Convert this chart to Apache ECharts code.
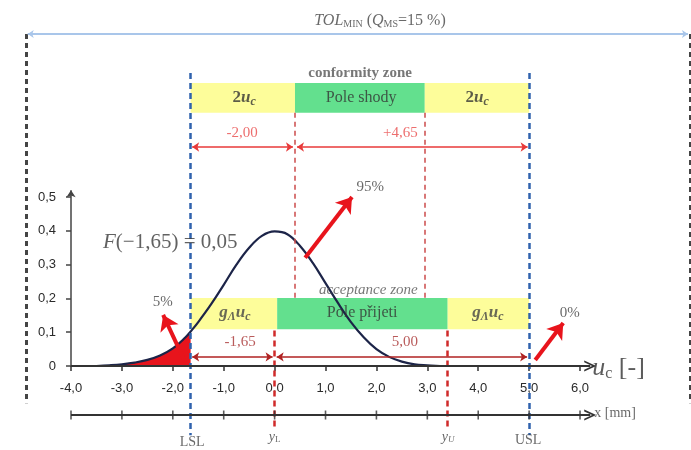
<!DOCTYPE html>
<html><head><meta charset="utf-8">
<script src="https://cdn.jsdelivr.net/npm/echarts@6/dist/echarts.min.js"></script>
<style>html,body{margin:0;padding:0;background:#fff}#c{width:691px;height:450px}</style>
</head><body><div id="c"></div>
<script>
// ---- data ----
const curveX = [-3.5,-3.25,-3,-2.75,-2.5,-2.25,-2,-1.75,-1.65,-1.5,-1.25,-1,-0.75,-0.5,-0.25,0,0.25,0.5,0.75,1,1.25,1.5,1.75,2,2.25,2.5,2.75,3,3.25,3.5];
const curveY = [0.000,0.002,0.005,0.010,0.018,0.031,0.052,0.085,0.102,0.130,0.182,0.240,0.300,0.350,0.385,0.398,0.390,0.355,0.305,0.245,0.185,0.130,0.085,0.050,0.027,0.013,0.005,0.002,0.000,0.000];
const xTicks = [-4,-3,-2,-1,0,1,2,3,4,5,6];
const yTicks = [0,0.1,0.2,0.3,0.4,0.5];
const LSL = -1.65, USL = 5.0;
const yL = 0.0, yU = 3.4;
const confLo = 0.4, confHi = 2.95;
const accLo = 0.05;
const tailFrom = -3.0;
const pctLabels = ['5%', '95%', '0%'];
const confDims = ['-2,00', '+4,65'];
const accDims = ['-1,65', '5,00'];

// ---- helpers ----
const serif = "'Liberation Serif','DejaVu Serif',serif";
const sans = "'Liberation Sans',Arial,sans-serif";
const curve = curveX.map((x, i) => [x, curveY[i]]);
const tail = curve.filter(p => p[0] >= tailFrom && p[0] <= LSL);
const fmtX = v => v.toFixed(1).replace('.', ',');
const fmtY = v => v === 0 ? '0' : v.toFixed(1).replace('.', ',');

function richBase(size, color) {
  return {
    n: {fontFamily: serif, fontSize: size, color: color},
    b: {fontFamily: serif, fontSize: size, color: color, fontWeight: 'bold'},
    i: {fontFamily: serif, fontSize: size, color: color, fontStyle: 'italic'},
    bi: {fontFamily: serif, fontSize: size, color: color, fontStyle: 'italic', fontWeight: 'bold'},
    s: {fontFamily: serif, fontSize: Math.round(size * 0.62), color: color, padding: [Math.round(size * 0.45), 0, 0, 0]},
    si: {fontFamily: serif, fontSize: Math.round(size * 0.62), color: color, fontStyle: 'italic', padding: [Math.round(size * 0.45), 0, 0, 0]},
    sbi: {fontFamily: serif, fontSize: Math.round(size * 0.7), color: color, fontStyle: 'italic', fontWeight: 'bold', padding: [Math.round(size * 0.45), 0, 0, 0]}
  };
}
function T(x, y, fmt, size, color, pos) {
  return {
    value: [x, y],
    label: {show: true, position: pos || 'inside', distance: 0, formatter: fmt, rich: richBase(size, color)}
  };
}

const texts = [
  T(2.07, 1.021, '{i|TOL}{s|MIN}{n| (}{i|Q}{s|MS}{n|=15 %)}', 16, '#444'),
  T(1.68, 0.867, '{b|conformity zone}', 15, '#555'),
  T(-0.60, 0.793, '{b|2}{bi|u}{sbi|c}', 17, '#333'),
  T(1.70, 0.793, '{n|Pole shody}', 16, '#333'),
  T(3.98, 0.793, '{b|2}{bi|u}{sbi|c}', 17, '#333'),
  T(-0.64, 0.689, '{n|' + confDims[0] + '}', 15, '#e84a4a'),
  T(2.47, 0.689, '{n|' + confDims[1] + '}', 15, '#e84a4a'),
  T(1.84, 0.225, '{i|acceptance zone}', 15, '#555'),
  T(-0.78, 0.157, '{bi|g}{sbi|Λ}{bi|u}{sbi|c}', 17, '#444'),
  T(1.72, 0.157, '{n|Pole přijeti}', 16, '#333'),
  T(4.19, 0.157, '{bi|g}{sbi|Λ}{bi|u}{sbi|c}', 17, '#444'),
  T(-0.68, 0.071, '{n|' + accDims[0] + '}', 15, '#a83232'),
  T(2.56, 0.071, '{n|' + accDims[1] + '}', 15, '#a83232'),
  T(-2.05, 0.364, '{i|F}{n|(−1,65) = 0,05}', 21, '#3a3a3a'),
  T(-2.20, 0.188, '{n|' + pctLabels[0] + '}', 15, '#444'),
  T(1.88, 0.530, '{n|' + pctLabels[1] + '}', 15, '#444'),
  T(5.80, 0.157, '{n|' + pctLabels[2] + '}', 15, '#444'),
  T(6.24, -0.006, '{i|u}{s|c}{n| [-]}', 26, '#333', 'right'),
  T(6.28, -0.139, '{n|x [mm]}', 14, '#444', 'right'),
  T(-1.62, -0.225, '{n|LSL}', 14, '#444'),
  T(0.0, -0.210, '{i|y}{s|L}', 14, '#444'),
  T(3.41, -0.210, '{i|y}{si|U}', 14, '#444'),
  T(4.98, -0.219, '{n|USL}', 14, '#444')
];

const chevron = 'path://M5,0 L10,10 L8.3,10 L5,3.4 L1.7,10 L0,10 Z';
function seg(x1, y1, x2, y2, color, width, type, sym, symSize) {
  return [
    {coord: [x1, y1], symbol: sym ? sym[0] : 'none', symbolSize: symSize || 8,
     lineStyle: {color: color, width: width, type: type || 'solid'}},
    {coord: [x2, y2], symbol: sym ? sym[1] : 'none', symbolSize: symSize || 8}
  ];
}
const dash = [6, 4];

const lines = [
  // outer tolerance frame
  seg(-4.884, 0.982, -4.884, -0.11, '#444', 3, [5, 4]),
  seg(8.163, 0.982, 8.163, -0.11, '#444', 3, [5, 4]),
  seg(-4.85, 0.982, 8.12, 0.982, '#a9c6ea', 2, 'solid', ['arrow', 'arrow'], 6),
  // LSL / USL
  seg(LSL, 0.867, LSL, -0.205, '#2f62ad', 2.5, dash),
  seg(USL, 0.867, USL, -0.205, '#2f62ad', 2.5, dash),
  // conformity zone limits
  seg(confLo, 0.749, confLo, 0.201, '#cc4b4b', 1.5, [5, 4]),
  seg(confHi, 0.749, confHi, 0.201, '#cc4b4b', 1.5, [5, 4]),
  // acceptance limits yL / yU
  seg(yL, 0.105, yL, -0.19, '#d02a2a', 2.5, dash),
  seg(yU, 0.105, yU, -0.19, '#d02a2a', 2.5, dash),
  // dimension lines
  seg(LSL + 0.03, 0.648, confLo - 0.04, 0.648, '#e83a3a', 1.5, 'solid', ['arrow', 'arrow'], 7),
  seg(confLo + 0.04, 0.648, USL - 0.03, 0.648, '#e83a3a', 1.5, 'solid', ['arrow', 'arrow'], 7),
  seg(LSL + 0.03, 0.027, yL - 0.04, 0.027, '#b02222', 1.5, 'solid', ['arrow', 'arrow'], 7),
  seg(yL + 0.04, 0.027, USL - 0.04, 0.027, '#b02222', 1.5, 'solid', ['arrow', 'arrow'], 7),
  // axes lines
  seg(-4, 0, -4, 0.52, '#444', 1.5, 'solid', ['none', 'arrow'], 7),
  seg(-4, 0, 6.2, 0, '#333', 2, 'solid', ['none', chevron], [11, 12]),
  seg(-4, -0.145, 6.2, -0.145, '#333', 2, 'solid', ['none', chevron], [11, 12]),
  // big red arrows
  seg(-1.76, 0.012, -2.19, 0.151, '#e8141c', 4, 'solid', ['none', 'arrow'], 15),
  seg(0.60, 0.320, 1.52, 0.500, '#e8141c', 4, 'solid', ['none', 'arrow'], 15),
  seg(5.12, 0.018, 5.67, 0.127, '#e8141c', 4, 'solid', ['none', 'arrow'], 15)
];

const yellow = '#fdfd9a', green = '#63e08e';
function box(x1, x2, y1, y2, c) {
  return [{coord: [x1, y1], itemStyle: {color: c, opacity: 1}}, {coord: [x2, y2]}];
}
const boxes = [
  box(LSL, confLo, 0.749, 0.837, yellow),
  box(confLo, confHi, 0.749, 0.837, green),
  box(confHi, USL, 0.749, 0.837, yellow),
  box(LSL, accLo, 0.109, 0.201, yellow),
  box(accLo, yU, 0.109, 0.201, green),
  box(yU, USL, 0.109, 0.201, yellow)
];

const chart = echarts.init(document.getElementById('c'), null, {renderer: 'canvas'});
chart.setOption({
  animation: false,
  backgroundColor: '#fff',
  grid: {left: 0, right: 0, top: 0, bottom: 0, containLabel: false, outerBoundsMode: 'none'},
  xAxis: {
    type: 'value', min: -5.395, max: 8.18, position: 'bottom', offset: -84,
    axisLine: {show: false, onZero: false},
    axisTick: {show: true, customValues: xTicks, length: 5, lineStyle: {color: '#333', width: 1.5}},
    axisLabel: {show: true, customValues: xTicks, formatter: fmtX, margin: 16, hideOverlap: false,
      showMinLabel: true, showMaxLabel: true,
      fontFamily: sans, fontSize: 13, color: '#2a2a2a'},
    splitLine: {show: false}
  },
  yAxis: {
    type: 'value', min: -0.2485, max: 1.0828, offset: -71,
    axisLine: {show: false, onZero: false},
    axisTick: {show: true, customValues: yTicks, length: 5, lineStyle: {color: '#444', width: 1.5}},
    axisLabel: {show: true, customValues: yTicks, formatter: fmtY, margin: 15,
      fontFamily: sans, fontSize: 13, color: '#2a2a2a'},
    splitLine: {show: false}
  },
  series: [
    {type: 'line', data: [], z: 1, silent: true,
     markArea: {silent: true, label: {show: false}, data: boxes}},
    {type: 'line', data: tail, z: 2, smooth: 0.4, showSymbol: false, silent: true,
     lineStyle: {width: 0}, areaStyle: {color: '#e8141c', opacity: 1}},
    {type: 'line', data: curve, z: 4, smooth: 0.4, showSymbol: false, silent: true,
     lineStyle: {color: '#1c2448', width: 2.2}},
    {type: 'line', data: [], z: 3, silent: true,
     markLine: {silent: true, animation: false, label: {show: false}, symbol: ['none', 'none'], data: lines}},
    {type: 'scatter', z: 5, silent: true, symbol: 'rect', symbolSize: [1.6, 9],
     itemStyle: {color: '#333'}, data: xTicks.map(v => [v, -0.145])},
    {type: 'scatter', z: 6, silent: true, symbolSize: 0, data: texts}
  ]
});
</script></body></html>
